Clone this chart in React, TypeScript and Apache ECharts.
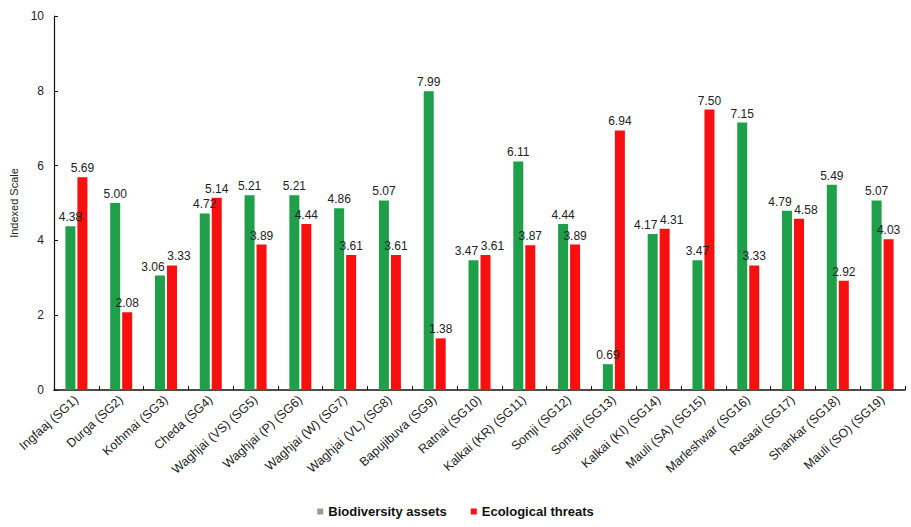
import React, { useEffect, useRef } from "react";
import * as echarts from "echarts";

const sites = [
  "Ingfaaj (SG1)",
  "Durga (SG2)",
  "Kothmai (SG3)",
  "Cheda (SG4)",
  "Waghjai (VS) (SG5)",
  "Waghjai (P) (SG6)",
  "Waghjai (W) (SG7)",
  "Waghjai (VL) (SG8)",
  "Bapujibuva (SG9)",
  "Ratnai (SG10)",
  "Kalkai (KR) (SG11)",
  "Somji (SG12)",
  "Somjai (SG13)",
  "Kalkai (KI) (SG14)",
  "Mauli (SA) (SG15)",
  "Marleshwar (SG16)",
  "Rasaai (SG17)",
  "Shankar (SG18)",
  "Mauli (SO) (SG19)",
];

const biodiversityAssets = [
  4.38, 5.0, 3.06, 4.72, 5.21, 5.21, 4.86, 5.07, 7.99, 3.47, 6.11, 4.44, 0.69,
  4.17, 3.47, 7.15, 4.79, 5.49, 5.07,
];

const ecologicalThreats = [
  5.69, 2.08, 3.33, 5.14, 3.89, 4.44, 3.61, 3.61, 1.38, 3.61, 3.87, 3.89, 6.94,
  4.31, 7.5, 3.33, 4.58, 2.92, 4.03,
];

// Sites whose two value labels sit at nearly the same height; their labels are pushed apart sideways.
const crowdedSites = [2, 9, 13, 16];

const GREEN = "#1f9f4a";
const RED = "#f80f0f";
const FONT = "Liberation Sans, Arial, sans-serif";

function withLabelNudge(values: number[], dx: number) {
  return values.map((v, i) =>
    crowdedSites.includes(i) ? { value: v, label: { offset: [dx, 0] } } : v
  );
}

export default function App() {
  const ref = useRef<HTMLDivElement>(null);

  useEffect(() => {
    document.body.style.margin = "0";
    if (!ref.current) return;
    const chart = echarts.init(ref.current, null, { renderer: "svg" });
    const valueLabel = {
      show: true,
      position: "top" as const,
      distance: 3,
      color: "#222",
      fontSize: 12,
      fontFamily: FONT,
      formatter: (p: any) => Number(p.value).toFixed(2),
    };
    chart.setOption({
      animation: false,
      backgroundColor: "#fff",
      textStyle: { fontFamily: FONT },
      grid: { left: 54, right: 6, top: 16, bottom: 137, containLabel: false },
      legend: {
        bottom: 4,
        left: "center",
        itemWidth: 6,
        itemHeight: 6,
        itemGap: 24,
        icon: "rect",
        textStyle: { fontSize: 13, fontWeight: "bold", color: "#111", fontFamily: FONT },
        data: [
          { name: "Biodiversity assets", itemStyle: { color: "#999" } },
          { name: "Ecological threats", itemStyle: { color: RED } },
        ],
      },
      xAxis: {
        type: "category",
        data: sites,
        axisLine: { lineStyle: { color: "#111", width: 1.5 } },
        axisTick: { show: true, inside: true, length: 4, lineStyle: { color: "#111" } },
        axisLabel: {
          rotate: 42,
          interval: 0,
          margin: 8,
          fontSize: 12.5,
          color: "#222",
          fontFamily: FONT,
        },
      },
      yAxis: {
        type: "value",
        min: 0,
        max: 10,
        interval: 2,
        name: "Indexed Scale",
        nameLocation: "middle",
        nameGap: 25,
        nameTextStyle: { fontSize: 11, color: "#222", fontFamily: FONT },
        splitLine: { show: false },
        axisLine: { show: true, lineStyle: { color: "#111", width: 1.2 } },
        axisTick: { show: true, inside: true, length: 4, lineStyle: { color: "#111" } },
        axisLabel: { fontSize: 12, color: "#222", margin: 10, fontFamily: FONT },
      },
      series: [
        {
          name: "Biodiversity assets",
          type: "bar",
          data: withLabelNudge(biodiversityAssets, -7),
          barWidth: 10,
          barGap: "20%",
          itemStyle: { color: GREEN },
          label: valueLabel,
        },
        {
          name: "Ecological threats",
          type: "bar",
          data: withLabelNudge(ecologicalThreats, 7),
          barWidth: 10,
          barGap: "20%",
          itemStyle: { color: RED },
          label: valueLabel,
        },
      ],
    });
    return () => chart.dispose();
  }, []);

  return <div ref={ref} style={{ width: 911, height: 527 }} />;
}
